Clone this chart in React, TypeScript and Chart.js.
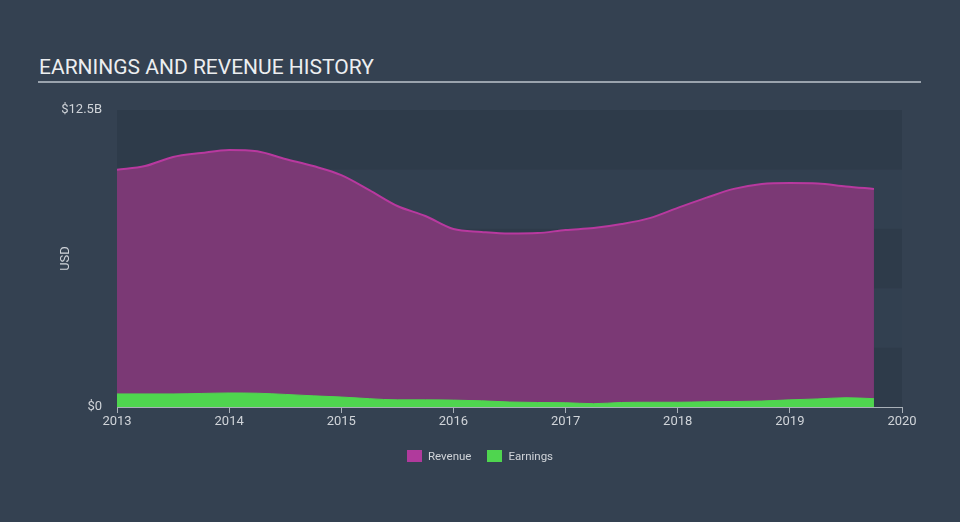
import React, { useEffect, useRef } from "react";
import { Chart, registerables } from "chart.js";

Chart.register(...registerables);

const years = [2013, 2013.25, 2013.5, 2013.75, 2014, 2014.25, 2014.5, 2014.75, 2015, 2015.25, 2015.5, 2015.75, 2016, 2016.25, 2016.5, 2016.75, 2017, 2017.25, 2017.5, 2017.75, 2018, 2018.25, 2018.5, 2018.75, 2019, 2019.25, 2019.5, 2019.75];
const revenue = [9.98, 10.14, 10.52, 10.69, 10.82, 10.76, 10.44, 10.14, 9.76, 9.13, 8.46, 8.04, 7.49, 7.37, 7.3, 7.32, 7.45, 7.53, 7.7, 7.95, 8.38, 8.8, 9.18, 9.39, 9.43, 9.41, 9.28, 9.18];
const earnings = [0.55, 0.55, 0.55, 0.57, 0.59, 0.58, 0.53, 0.47, 0.42, 0.35, 0.3, 0.3, 0.29, 0.26, 0.21, 0.19, 0.18, 0.14, 0.19, 0.2, 0.2, 0.22, 0.23, 0.25, 0.3, 0.34, 0.39, 0.35];
const yTicks = [0, 2.5, 5, 7.5, 10, 12.5];
const xTicks = [2013, 2014, 2015, 2016, 2017, 2018, 2019, 2020];

const BG = "#344151";
const BAND_DARK = "#2e3b4a";
const BAND_LIGHT = "#324050";
const TEXT = "#d0d4d9";

const bandsPlugin = {
  id: "bands",
  beforeDraw(chart: any) {
    const { ctx, chartArea } = chart;
    const y = chart.scales.y;
    ctx.save();
    for (let i = 0; i < yTicks.length - 1; i++) {
      const top = y.getPixelForValue(yTicks[i + 1]);
      const bottom = y.getPixelForValue(yTicks[i]);
      ctx.fillStyle = i % 2 === 0 ? BAND_DARK : BAND_LIGHT;
      ctx.fillRect(chartArea.left, top, chartArea.right - chartArea.left, bottom - top);
    }
    ctx.restore();
  },
  afterDraw(chart: any) {
    const { ctx, chartArea } = chart;
    ctx.save();
    ctx.translate(66, (chartArea.top + chartArea.bottom) / 2);
    ctx.rotate(-Math.PI / 2);
    ctx.fillStyle = TEXT;
    ctx.font = "13px Roboto";
    ctx.textAlign = "center";
    ctx.textBaseline = "middle";
    ctx.fillText("USD", 0, 0);
    ctx.restore();
  },
};

export default function App() {
  const ref = useRef<HTMLCanvasElement>(null);
  useEffect(() => {
    document.body.style.margin = "0";
    const chart = new Chart(ref.current!, {
      type: "line",
      data: {
        datasets: [
          {
            label: "Earnings",
            data: years.map((x, i) => ({ x, y: earnings[i] })),
            borderColor: "#4fd54f",
            backgroundColor: "#4fd54f",
            borderWidth: 1,
            fill: "origin",
            pointRadius: 0,
            cubicInterpolationMode: "monotone",
          },
          {
            label: "Revenue",
            data: years.map((x, i) => ({ x, y: revenue[i] })),
            borderColor: "#b8399f",
            backgroundColor: "#7b3975",
            borderWidth: 2,
            fill: "origin",
            pointRadius: 0,
            cubicInterpolationMode: "monotone",
          },
        ],
      },
      plugins: [bandsPlugin],
      options: {
        animation: false,
        responsive: false,
        maintainAspectRatio: false,
        layout: { padding: { left: 0, right: 58, top: 110, bottom: 85 } },
        plugins: { legend: { display: false }, tooltip: { enabled: false } },
        scales: {
          x: {
            type: "linear",
            min: 2013,
            max: 2020,
            afterBuildTicks: (s: any) => { s.ticks = xTicks.map((v) => ({ value: v })); },
            afterFit: (s: any) => { s.height = 30; },
            ticks: { color: TEXT, font: { family: "Roboto", size: 13 }, padding: 1, maxRotation: 0, callback: (v: any) => String(v) },
            grid: { drawOnChartArea: false, drawTicks: true, tickLength: 6, color: "#a9b0b8" },
            border: { display: true, color: "#a9b0b8", width: 1 },
          },
          y: {
            min: 0,
            max: 12.5,
            afterBuildTicks: (s: any) => { s.ticks = yTicks.map((v) => ({ value: v })); },
            afterFit: (s: any) => { s.width = 117; },
            ticks: {
              color: TEXT,
              font: { family: "Roboto", size: 13 },
              padding: 15,
              callback: (v: any) => (v === 0 ? "$0" : v === 12.5 ? "$12.5B" : ""),
            },
            grid: { display: false, drawTicks: false },
            border: { display: false },
          },
        },
      },
    });
    return () => chart.destroy();
  }, []);

  return (
    <div style={{ position: "relative", width: 960, height: 522, background: BG, fontFamily: "Roboto" }}>
      <div style={{ position: "absolute", left: 39, top: 55, fontSize: 21, color: "#eceef0", letterSpacing: 0 }}>
        EARNINGS AND REVENUE HISTORY
      </div>
      <div style={{ position: "absolute", left: 38, top: 81, width: 883, height: 2, background: "#9aa3ad" }} />
      <canvas ref={ref} width={960} height={522} style={{ position: "absolute", left: 0, top: 0 }} />
      <div style={{ position: "absolute", top: 449, left: 0, width: 960, display: "flex", justifyContent: "center", gap: 16, fontSize: 11.5, color: TEXT }}>
        <div style={{ display: "flex", alignItems: "center" }}>
          <span style={{ width: 15, height: 12, background: "#b03a9c", display: "inline-block", marginRight: 6 }} />
          Revenue
        </div>
        <div style={{ display: "flex", alignItems: "center" }}>
          <span style={{ width: 15, height: 12, background: "#4fd54f", display: "inline-block", marginRight: 6 }} />
          Earnings
        </div>
      </div>
    </div>
  );
}
